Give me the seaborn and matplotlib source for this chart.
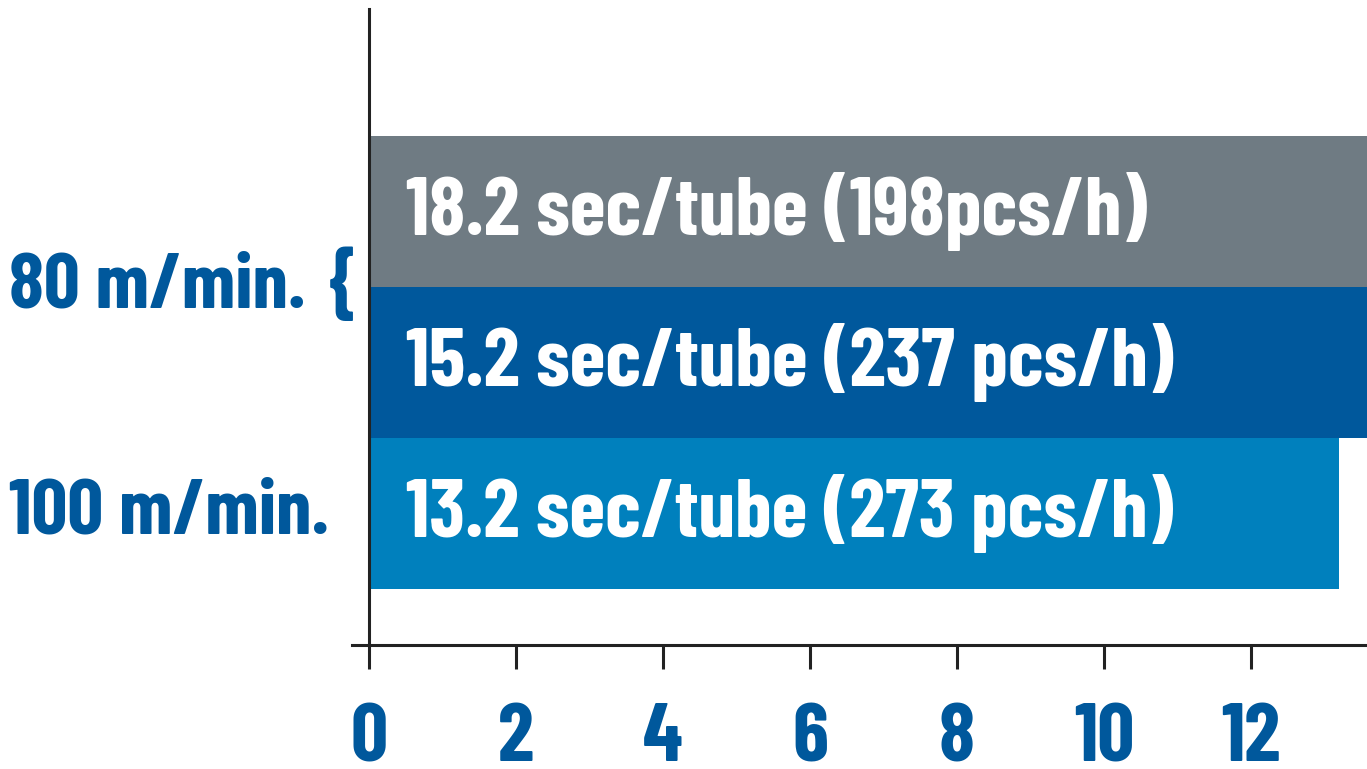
import matplotlib
matplotlib.use("Agg")
import matplotlib.pyplot as plt
import matplotlib.transforms as mtransforms
import seaborn as sns
import pandas as pd

categories = ["80 m/min. (a)", "80 m/min. (b)", "100 m/min."]
values = [18.2, 15.2, 13.2]
bar_labels = ["18.2 sec/tube (198pcs/h)", "15.2 sec/tube (237 pcs/h)", "13.2 sec/tube (273 pcs/h)"]
colors = ["#6f7b83", "#00589c", "#0080bd"]
group_labels = ["80 m/min.", "100 m/min."]
group_pos = [0.5, 2.0]
xticks = [0, 2, 4, 6, 8, 10, 12]

sns.set_theme(style="white")
FONT = ["Barlow Condensed", "DejaVu Sans"]
plt.rcParams["font.family"] = FONT

label_color = "#00589c"

fig = plt.figure(figsize=(13.67, 7.69), dpi=100)
ax = fig.add_axes([352 / 1367, (769 - 645) / 769, (1367 - 352) / 1367, (645 - 9) / 769])

df = pd.DataFrame({"cat": categories, "val": values})
sns.barplot(data=df, x="val", y="cat", hue="cat", palette=colors, orient="h",
            width=1.0, legend=False, ax=ax, saturation=1.0, linewidth=0)

ax.set_xlim(-0.231, 13.578)
ax.set_ylim(2.868, -1.341)

ax.spines["top"].set_visible(False)
ax.spines["right"].set_visible(False)
ax.spines["left"].set_position(("data", 0))
for s in ["left", "bottom"]:
    ax.spines[s].set_color("#222222")
    ax.spines[s].set_linewidth(2.2)

ax.set_xticks(xticks)
ax.set_xticklabels([str(t) for t in xticks], fontsize=59, fontweight="bold",
                   color=label_color, family=FONT)
ax.tick_params(axis="x", bottom=True, direction="out", length=17, width=2.2,
               color="#222222", pad=25)
ax.set_yticks([])
ax.set_xlabel("")
ax.set_ylabel("")

for i, lab in enumerate(bar_labels):
    ax.text(0.5, i, lab, color="white", fontsize=59, fontweight="bold",
            va="center", ha="left", family=FONT)

trans = mtransforms.blended_transform_factory(fig.transFigure, ax.transData)
for lab, y in zip(group_labels, group_pos):
    ax.text(9 / 1367, y, lab, transform=trans, color=label_color, fontsize=57,
            fontweight="bold", va="center", ha="left", family=FONT, clip_on=False)
ax.text(341 / 1367, 0.5, "{", transform=trans, color=label_color, fontsize=57,
        fontweight="bold", va="center", ha="center", family=FONT, clip_on=False)

fig.savefig("out.png", dpi=100)
